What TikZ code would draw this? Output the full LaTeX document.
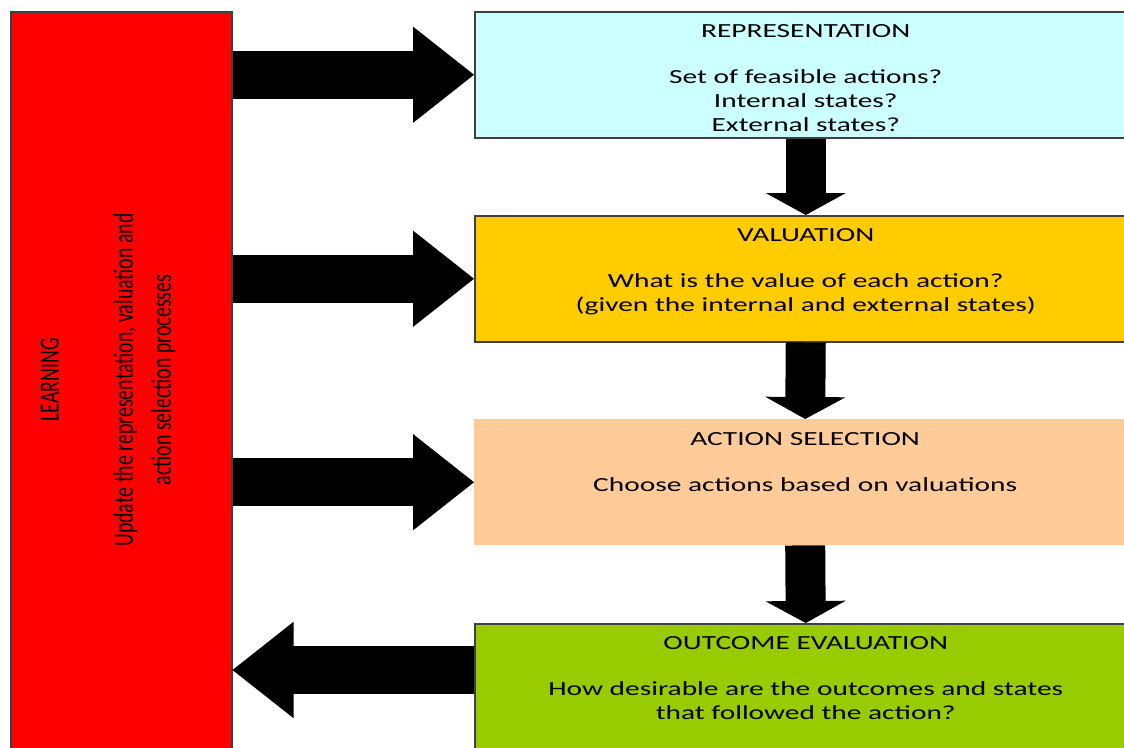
\documentclass[tikz,border=0pt]{standalone}
\usepackage{fontspec}
\setmainfont[FakeStretch=1.47]{Carlito}
\newfontfamily\sidefont[FakeStretch=0.71]{Carlito}
\usetikzlibrary{arrows.meta,calc}

\definecolor{repblue}{HTML}{CCFFFF}
\definecolor{valgold}{HTML}{FFCC00}
\definecolor{selpeach}{HTML}{FFCC99}
\definecolor{outgreen}{HTML}{99CC00}
\definecolor{edgegray}{HTML}{404040}

\begin{document}
\begin{tikzpicture}[x=1pt, y=-1pt,
   stage/.style={rectangle, anchor=north west, inner sep=0pt,
                 minimum width=662pt, minimum height=126pt},
   edged/.style={draw=edgegray, line width=1.5pt},
   stagetext/.style={anchor=north, align=center, inner sep=0pt,
                     font=\fontsize{20}{24}\selectfont},
   flowacross/.style={line width=48pt,
                      -{Triangle[length=61pt, width=96pt, line width=1.5pt]}},
   flowdown/.style={line width=40pt,
                    -{Triangle[length=22pt, width=80pt, line width=1.5pt]}}]

   \useasboundingbox (0,0) rectangle (1124,747);
   \clip (0,0) rectangle (1124,747);

   % boxes
   \node [stage, edged, fill=red, minimum width=221pt, minimum height=760pt] (learn) at (10,11) {};
   \node [stage, edged, fill=repblue] (rep) at (474,11) {};
   \node [stage, edged, fill=valgold] (val) at (474,215) {};
   \node [stage, fill=selpeach] (sel) at (474,419) {};
   \node [stage, edged, fill=outgreen, minimum height=150pt] (out) at (474,623) {};

   % texts
   \node [rotate=90, align=center, inner sep=0pt,
          font=\sidefont\fontsize{28}{38}\selectfont] (learntext) at (108,380)
         {LEARNING\\[36pt]Update the representation, valuation and\\action selection processes};
   \node [stagetext] (reptext) at ($(rep.north)+(0,13)$)
         {REPRESENTATION\\[22pt]Set of feasible actions?\\Internal states?\\External states?};
   \node [stagetext] (valtext) at ($(val.north)+(0,13)$)
         {VALUATION\\[22pt]What is the value of each action?\\(given the internal and external states)};
   \node [stagetext] (seltext) at ($(sel.north)+(0,13)$)
         {ACTION SELECTION\\[22pt]Choose actions based on valuations};
   \node [stagetext] (outtext) at ($(out.north)+(0,13)$)
         {OUTCOME EVALUATION\\[22pt]How desirable are the outcomes and states\\that followed the action?};

   % arrows
   \draw [flowacross] (learn.east |- rep.west) -- (rep.west);
   \draw [flowacross] (learn.east |- val.west) -- (val.west);
   \draw [flowacross] (learn.east |- sel.west) -- (sel.west);
   \coordinate (back) at ($(out.north west)+(0,47)$);
   \draw [flowacross] (back) -- (learn.east |- back);

   \draw [flowdown] (rep.south) -- (val.north);
   \draw [flowdown] (val.south) -- (sel.north);
   \draw [flowdown] (sel.south) -- (out.north);

\end{tikzpicture}
\end{document}
